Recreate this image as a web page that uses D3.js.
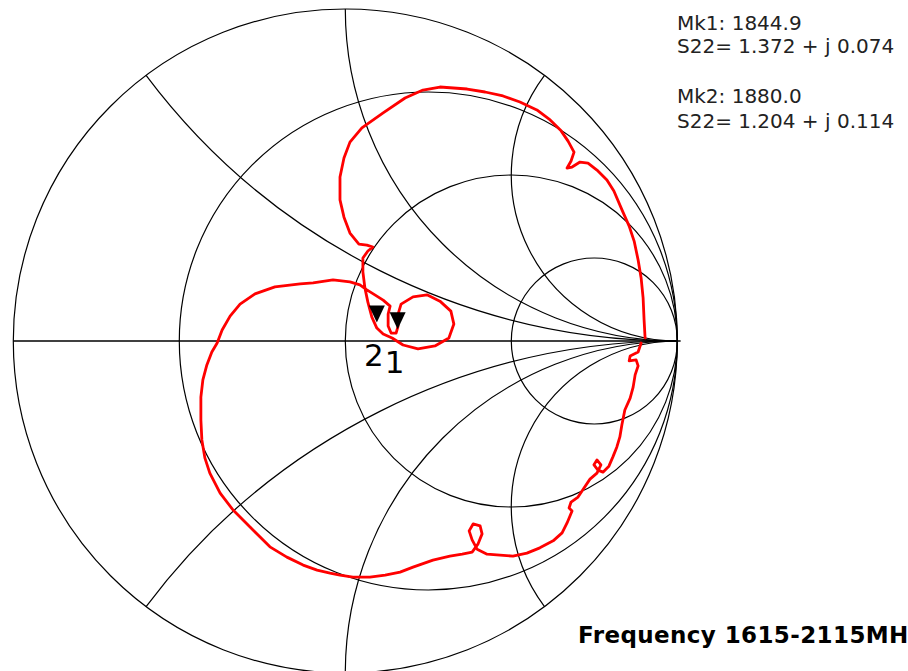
<!DOCTYPE html>
<html>
<head>
<meta charset="utf-8">
<script src="https://cdn.jsdelivr.net/npm/d3@7"></script>
<style>
  html, body { margin: 0; padding: 0; background: #fff; }
  svg { display: block; }
</style>
</head>
<body>
<div id="chart"></div>
<script>
const traceRe = [
    0.891, 0.882, 0.858, 0.855, 0.876, 0.882, 0.873, 0.867, 0.858, 0.842,
    0.833, 0.827, 0.818, 0.806, 0.794, 0.776, 0.761, 0.749, 0.758, 0.770,
    0.758, 0.737, 0.719, 0.701, 0.680, 0.674, 0.683, 0.668, 0.653, 0.626,
    0.586, 0.547, 0.505, 0.466, 0.427, 0.397, 0.382, 0.373, 0.385, 0.406,
    0.412, 0.400, 0.382, 0.352, 0.315, 0.264, 0.204, 0.165, 0.120, 0.074,
    0.023, -0.016, -0.046, -0.085, -0.127, -0.176, -0.227, -0.287, -0.338, -0.377,
    -0.408, -0.423, -0.432, -0.435, -0.435, -0.429, -0.417, -0.402, -0.386, -0.371,
    -0.347, -0.317, -0.272, -0.212, -0.136, -0.097, -0.037, 0.014, 0.044, 0.065,
    0.089, 0.114, 0.135, 0.129, 0.129, 0.138, 0.153, 0.159, 0.159, 0.168,
    0.204, 0.246, 0.285, 0.318, 0.327, 0.312, 0.270, 0.219, 0.174, 0.141,
    0.114, 0.095, 0.080, 0.068, 0.059, 0.053, 0.053, 0.068, 0.083, 0.065,
    0.041, 0.014, -0.004, -0.016, -0.016, -0.004, 0.014, 0.050, 0.114, 0.180,
    0.234, 0.285, 0.367, 0.421, 0.475, 0.526, 0.577, 0.617, 0.650, 0.671,
    0.689, 0.680, 0.668, 0.683, 0.707, 0.731, 0.758, 0.788, 0.809, 0.836,
    0.855, 0.870, 0.882, 0.891, 0.897, 0.900, 0.903
];
const traceIm = [
    -0.006, -0.033, -0.045, -0.060, -0.057, -0.075, -0.102, -0.139, -0.172, -0.208,
    -0.253, -0.289, -0.319, -0.349, -0.377, -0.395, -0.389, -0.373, -0.358, -0.373,
    -0.398, -0.416, -0.443, -0.470, -0.485, -0.503, -0.512, -0.548, -0.578, -0.602,
    -0.623, -0.639, -0.648, -0.645, -0.642, -0.627, -0.599, -0.572, -0.551, -0.557,
    -0.581, -0.611, -0.636, -0.642, -0.648, -0.660, -0.681, -0.696, -0.705, -0.711,
    -0.711, -0.705, -0.699, -0.690, -0.675, -0.651, -0.620, -0.560, -0.509, -0.458,
    -0.398, -0.352, -0.298, -0.238, -0.169, -0.117, -0.072, -0.033, -0.006, 0.033,
    0.075, 0.111, 0.142, 0.163, 0.172, 0.175, 0.184, 0.178, 0.169, 0.154,
    0.139, 0.123, 0.105, 0.081, 0.045, 0.024, 0.024, 0.045, 0.081, 0.111,
    0.133, 0.139, 0.120, 0.090, 0.051, 0.009, -0.015, -0.024, -0.012, 0.009,
    0.021, 0.039, 0.072, 0.117, 0.160, 0.208, 0.250, 0.271, 0.283, 0.289,
    0.292, 0.325, 0.373, 0.425, 0.494, 0.551, 0.599, 0.642, 0.687, 0.732,
    0.756, 0.765, 0.759, 0.750, 0.738, 0.720, 0.696, 0.666, 0.633, 0.602,
    0.569, 0.542, 0.521, 0.524, 0.539, 0.536, 0.515, 0.485, 0.452, 0.389,
    0.346, 0.301, 0.244, 0.190, 0.130, 0.063, 0.009
];

// grid: constant resistance circles and constant reactance arcs
const resistances = [1 / 3, 1, 3];
const reactances = [0.5, 1, 2];

// markers (normalized impedance)
const markerIds = ["1", "2"];
const markerFreqs = ["1844.9", "1880.0"];
const markerR = [1.372, 1.204];
const markerX = [0.074, 0.114];

const title = "Frequency 1615-2115MHz";

const width = 908, height = 671;
const svg = d3.select("#chart")
    .append("svg")
    .attr("width", width)
    .attr("height", height)
;

const x = d3.scaleLinear().domain([-1, 1]).range([13.3, 677.3]);
const y = d3.scaleLinear().domain([-1, 1]).range([673, 9]);
const R = x(1) - x(0);

// z = r + jx  ->  reflection coefficient
function gamma(r, xx) {
    const d = (r + 1) * (r + 1) + xx * xx;
    return [(r * r + xx * xx - 1) / d, 2 * xx / d];
}

const grid = svg.append("g")
    .attr("fill", "none")
    .attr("stroke", "#000")
    .attr("stroke-width", 1.2)
;

grid.append("circle")
    .attr("cx", x(0))
    .attr("cy", y(0))
    .attr("r", R)
;

grid.append("line")
    .attr("x1", x(-1)).attr("y1", y(0))
    .attr("x2", x(1.01)).attr("y2", y(0))
    .attr("stroke-width", 1.5)
;

grid.selectAll("circle.res")
    .data(resistances)
    .enter()
    .append("circle")
    .attr("class", "res")
    .attr("cx", d => x(d / (1 + d)))
    .attr("cy", y(0))
    .attr("r", d => R / (1 + d))
;

const arcs = [];
reactances.forEach(v => { arcs.push(v); arcs.push(-v); });

grid.selectAll("path.reac")
    .data(arcs)
    .enter()
    .append("path")
    .attr("class", "reac")
    .attr("d", d => {
        const p0 = gamma(0, d);
        const rad = R / Math.abs(d);
        return "M" + x(p0[0]) + "," + y(p0[1])
            + " A" + rad + "," + rad + " 0 0 " + (d > 0 ? 0 : 1) + " "
            + x(1) + "," + y(0);
    })
;

// trace
const line = d3.line()
    .x(i => x(traceRe[i]))
    .y(i => y(traceIm[i]))
;

svg.append("path")
    .attr("d", line(d3.range(traceRe.length)))
    .attr("fill", "none")
    .attr("stroke", "#ff0000")
    .attr("stroke-width", 2.8)
    .attr("stroke-linejoin", "round")
    .attr("stroke-linecap", "round")
;

// markers
const markers = markerIds.map((id, i) => {
    const g = gamma(markerR[i], markerX[i]);
    return { id: id, freq: markerFreqs[i], r: markerR[i], xx: markerX[i], px: x(g[0]), py: y(g[1]) };
});

svg.selectAll("path.mk")
    .data(markers)
    .enter()
    .append("path")
    .attr("class", "mk")
    .attr("d", d => "M" + (d.px - 8) + "," + (d.py - 20)
        + " L" + (d.px + 8) + "," + (d.py - 20)
        + " L" + d.px + "," + (d.py - 3) + " Z")
    .attr("fill", "#000")
;

svg.selectAll("text.mklabel")
    .data(markers)
    .enter()
    .append("text")
    .attr("class", "mklabel")
    .attr("x", d => d.px - 3)
    .attr("y", d => d.py + 41)
    .attr("text-anchor", "middle")
    .style("font-family", "'DejaVu Sans', sans-serif")
    .style("font-size", "31px")
    .style("fill", "#000")
    .text(d => d.id)
;

// marker readout, top right
const legendLines = [];
markers.forEach(d => {
    legendLines.push("Mk" + d.id + ": " + d.freq);
    legendLines.push("S22= " + d.r.toFixed(3) + " + j " + d.xx.toFixed(3));
});
const legendY = [29.5, 53, 103, 128];

svg.selectAll("text.legend")
    .data(legendLines)
    .enter()
    .append("text")
    .attr("class", "legend")
    .attr("x", 677)
    .attr("y", (d, i) => legendY[i])
    .style("font-family", "'DejaVu Sans', sans-serif")
    .style("font-size", "20px")
    .style("fill", "#222")
    .text(d => d)
;

svg.append("text")
    .attr("x", 578)
    .attr("y", 643)
    .style("font-family", "'DejaVu Sans', sans-serif")
    .style("font-weight", "bold")
    .style("font-size", "23px")
    .style("letter-spacing", "0.4px")
    .style("fill", "#000")
    .text(title)
;
</script>
</body>
</html>
